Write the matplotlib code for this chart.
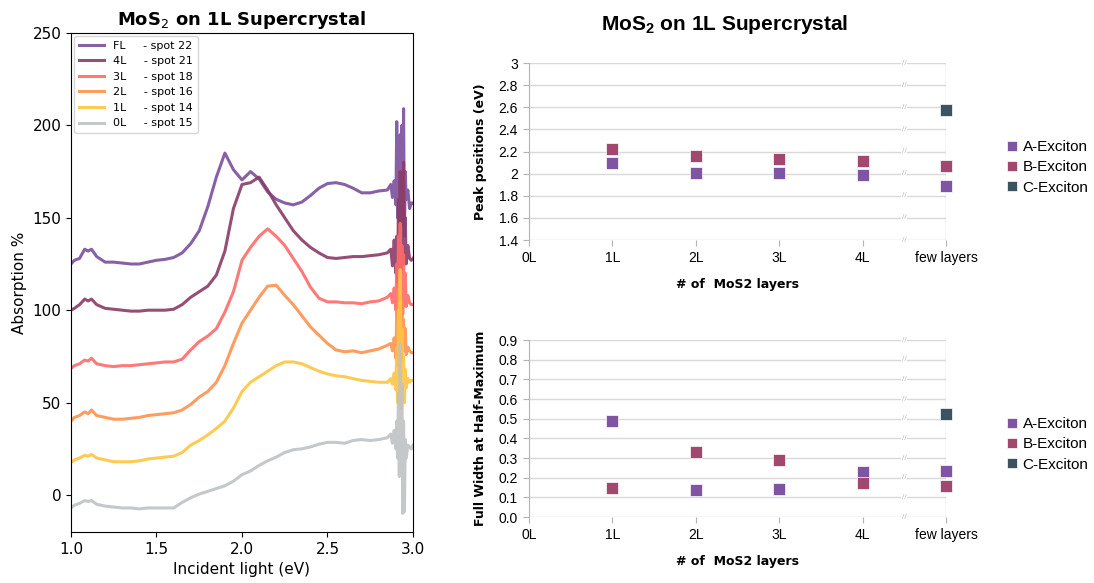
import matplotlib
matplotlib.use("Agg")
import matplotlib.pyplot as plt

# absorption spectra, energy axis in eV
energy = [1.00, 1.02, 1.05, 1.08, 1.10, 1.12, 1.15, 1.20, 1.25, 1.30, 1.35, 1.40, 1.45,
          1.50, 1.55, 1.60, 1.65, 1.70, 1.75, 1.80, 1.85, 1.90, 1.95, 2.00, 2.05, 2.10,
          2.15, 2.20, 2.25, 2.30, 2.35, 2.40, 2.45, 2.50, 2.55, 2.60, 2.65, 2.70, 2.75,
          2.80, 2.85, 2.87, 2.88, 2.89, 2.90, 2.905, 2.91, 2.915, 2.92, 2.925, 2.93,
          2.935, 2.94, 2.945, 2.95, 2.955, 2.96, 2.97, 2.98, 2.99, 3.00]

abs_fl = [125, 127, 128, 133, 132, 133, 129, 126, 126, 125.5, 125, 125, 126, 127, 127.5,
          128.5, 131, 136, 143, 156, 172, 185, 176, 170.5, 175, 171, 164, 160, 158, 157,
          158.5, 162, 166, 168.5, 169, 168, 166, 163.5, 163.5, 164.5, 165,
          168, 161, 170, 157, 202, 150, 185, 140, 195, 145, 200, 148, 209, 140, 175, 160,
          165, 155, 158, 158]
abs_4l = [100, 101, 103, 106, 105, 106, 103, 101, 100.5, 100, 99.5, 99.5, 100, 100, 100,
          100.5, 103, 107, 110, 113, 119, 132, 155, 168, 169, 172, 165, 157, 150, 143,
          138, 134, 131, 128.5, 128, 128.5, 129, 129, 129.5, 130, 131,
          133, 124, 138, 120, 140, 115, 160, 110, 175, 120, 165, 125, 180, 130, 150, 125,
          135, 128, 127, 128]
abs_3l = [68.5, 70, 71, 73, 72.5, 74, 71, 70, 69.5, 70, 70, 70.5, 71, 71.5, 72, 72, 73.5,
          78.5, 83, 86, 90, 99, 110, 127, 134, 140, 144, 140, 135, 128, 121, 112.5, 106.5,
          104.5, 104.5, 104, 104, 103.5, 104.5, 105, 107,
          109, 104, 112, 100, 125, 97, 140, 95, 147, 100, 135, 98, 130, 105, 120, 102,
          108, 104, 103, 103]
abs_2l = [40, 42, 43, 45, 44, 46, 43, 42, 41, 41, 41.5, 42, 43, 43.5, 44, 44.5, 46, 49,
          53, 56, 61, 70, 82, 93, 100, 107, 113, 113.5, 108, 103, 97, 91, 86.5, 82, 78.5,
          77.5, 78, 77, 78, 79, 81,
          82, 78, 85, 74, 100, 70, 111, 75, 116, 72, 105, 80, 95, 78, 90, 76, 80, 78, 77, 77]
abs_1l = [17.5, 19, 20, 21.5, 21, 22, 20, 19, 18, 18, 18, 18.5, 19.5, 20, 20.5, 21, 23,
          27, 29.5, 32.5, 36, 40, 47, 56, 61, 64, 67, 70, 72, 72, 71, 69, 67, 65.5, 64.5,
          64, 63, 62, 61.5, 61, 61,
          63, 60, 66, 57, 80, 50, 100, 55, 122, 47, 90, 60, 75, 50, 68, 58, 63, 61, 62, 62]
abs_0l = [-7, -5.5, -4.5, -3, -3.5, -3, -5, -6, -6.5, -7, -7, -7.5, -7, -7, -7, -7, -4,
          -1.5, 0.5, 2, 3.5, 5, 7.5, 11, 13, 16, 18.5, 20.5, 23, 24.5, 25, 26, 27.5, 28.5,
          28.5, 28, 29.5, 30, 29.5, 30, 31,
          33, 28, 35, 25, 40, 20, 55, 10, 82, 15, 60, -10, 40, -9, 30, 20, 27, 26, 25, 27]

spectra = [("FL", 22, abs_fl, "#7b4f9d"),
           ("4L", 21, abs_4l, "#8a3b66"),
           ("3L", 18, abs_3l, "#ff6b6b"),
           ("2L", 16, abs_2l, "#ff914d"),
           ("1L", 14, abs_1l, "#ffc540"),
           ("0L", 15, abs_0l, "#bfc2c5")]

# exciton fits
layers = ["0L", "1L", "2L", "3L", "4L", "few layers"]
pos_idx = [1, 2, 3, 4, 5]
peak_a = [2.10, 2.01, 2.005, 1.99, 1.887]
peak_b = [2.22, 2.16, 2.136, 2.115, 2.073]
peak_c = [2.573]
fwhm_a = [0.489, 0.138, 0.140, 0.229, 0.235]
fwhm_b = [0.145, 0.332, 0.291, 0.174, 0.157]
fwhm_c = [0.524]

col_a = "#7f55a3"
col_b = "#a2486f"
col_c = "#3d5261"
office = "Liberation Sans"

fig = plt.figure(figsize=(10.94, 5.83), dpi=100)

ax = fig.add_axes([0.0649, 0.0875, 0.3126, 0.856])
for name, spot, vals, c in spectra:
    ax.plot(energy, vals, color=c, lw=2.2, alpha=0.9,
            label=f"{name}     - spot {spot}")
ax.set_xlim(1.0, 3.0)
ax.set_ylim(-20, 250)
ax.set_xlabel("Incident light (eV)", fontsize=11)
ax.set_ylabel("Absorption %", fontsize=11)
ax.tick_params(labelsize=11)
ax.set_title("MoS$_2$ on 1L Supercrystal", fontsize=13, fontweight="bold")
ax.legend(loc="upper left", fontsize=8, handlelength=2.3, borderaxespad=0.3)


def exciton_panel(rect, a_vals, b_vals, c_vals, ylo, yhi, step, ylabel, fmt):
    axr = fig.add_axes(rect)
    ticks = []
    v = ylo
    while v <= yhi + 1e-9:
        ticks.append(round(v, 2))
        v += step
    axr.set_xlim(0, 5)
    axr.set_ylim(ylo, yhi)
    for t in ticks:
        axr.axhline(t, color="#d9d9d9", lw=1, zorder=0)
        axr.text(4.5, t, "//", ha="center", va="center", fontsize=6, color="#c0c0c0",
                 family=office, bbox=dict(facecolor="white", edgecolor="none", pad=0.5),
                 zorder=1)
    axr.axvline(5, color="#d9d9d9", lw=1, zorder=0)
    axr.plot(pos_idx, a_vals, "s", ms=9, color=col_a, mec="white", mew=0.5,
             label="A-Exciton", zorder=3, clip_on=False)
    axr.plot(pos_idx, b_vals, "s", ms=9, color=col_b, mec="white", mew=0.5,
             label="B-Exciton", zorder=3, clip_on=False)
    axr.plot([5], c_vals, "s", ms=9, color=col_c, mec="white", mew=0.5,
             label="C-Exciton", zorder=3, clip_on=False)
    axr.set_yticks(ticks)
    axr.set_yticklabels([fmt(t) for t in ticks], family=office, fontsize=10)
    axr.set_xticks(range(6))
    axr.set_xticklabels(layers, family=office, fontsize=10)
    for s in ["top", "right", "bottom"]:
        axr.spines[s].set_visible(False)
    axr.spines["left"].set_color("#b3b3b3")
    axr.tick_params(axis="both", color="#b3b3b3", length=4, pad=4)
    axr.set_ylabel(ylabel, fontsize=9, fontweight="bold", labelpad=8)
    axr.set_xlabel("# of  MoS2 layers", fontsize=9, fontweight="bold", labelpad=9)
    axr.legend(loc="center left", bbox_to_anchor=(1.125, 0.41), frameon=False,
               prop={"family": office, "size": 11}, handlelength=0.8,
               handletextpad=0.3, labelspacing=0.4, markerscale=0.85, borderpad=0)
    return axr


top = exciton_panel([0.4835, 0.5883, 0.3812, 0.3036], peak_a, peak_b, peak_c,
                    1.4, 3.0, 0.2, "Peak positions (eV)", lambda t: f"{t:g}")
top.set_title("MoS$_\\mathregular{2}$ on 1L Supercrystal", fontsize=15,
              fontweight="bold", family=office, pad=24, x=0.47)
exciton_panel([0.4835, 0.1132, 0.3812, 0.3036], fwhm_a, fwhm_b, fwhm_c,
              0.0, 0.9, 0.1, "Full Width at Half-Maximum", lambda t: f"{t:.1f}")

fig.savefig("out.png", dpi=100)
